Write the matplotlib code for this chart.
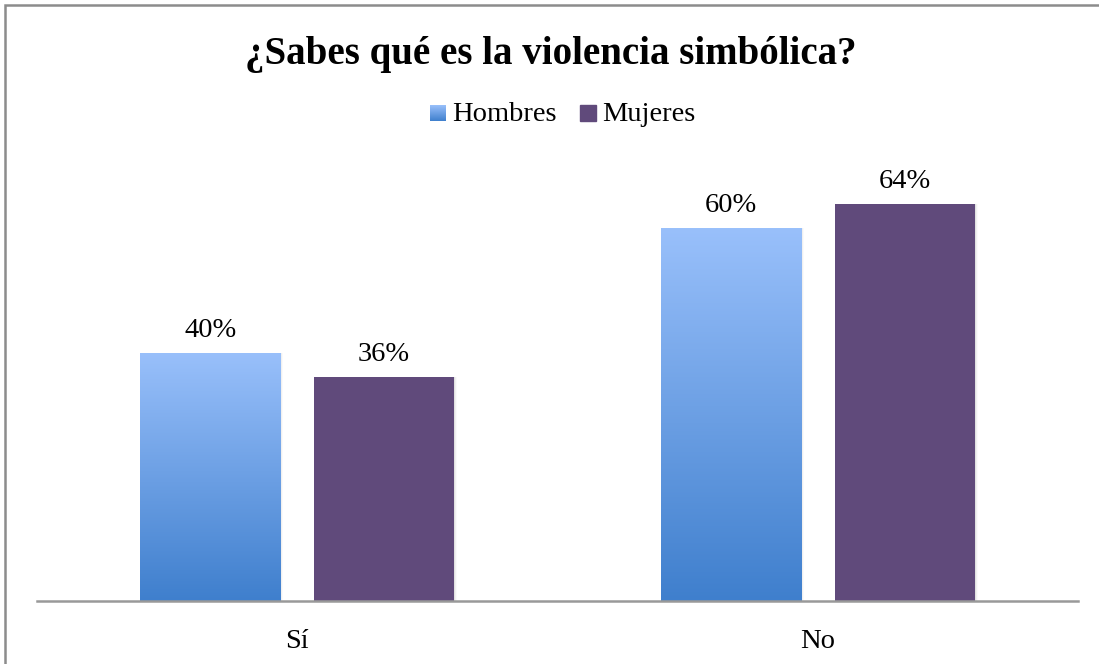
import numpy as np
import matplotlib.pyplot as plt
from matplotlib.patches import Rectangle
from matplotlib.colors import LinearSegmentedColormap

categorias = ["Sí", "No"]
hombres = [40, 60]
mujeres = [36, 64]
series = ["Hombres", "Mujeres"]

azul = LinearSegmentedColormap.from_list("azul", ["#3f7fcd", "#99c0fb"])
morado = "#604a7b"

plt.rcParams['font.family'] = ['Liberation Serif', 'DejaVu Serif']

fig = plt.figure(figsize=(10.99, 6.64), dpi=100)
W, H = 1099, 664
px = 6.21  # px por punto porcentual

# marco exterior
fig.patches.append(Rectangle((5 / W, -0.1), 1.2, (664 - 5) / H + 0.1, transform=fig.transFigure,
                             fill=False, edgecolor="#8c8c8c", linewidth=1.8))

# área de gráfico: eje x de 37 a 1078 px, base en y=601 px
top_px = 170
ax = fig.add_axes([37 / W, (H - 601) / H, (1078 - 37) / W, (601 - top_px) / H])
for s in ["top", "right", "left"]:
    ax.spines[s].set_visible(False)
ax.spines["bottom"].set_color("#999999")
ax.spines["bottom"].set_linewidth(1.8)
ax.set_yticks([])
ax.set_xticks([])

ancho = 0.269
desp = 0.167
x = np.arange(len(categorias))
grad = np.linspace(0, 1, 256).reshape(-1, 1)

for xi, cat in zip(x, categorias):
    ax.text(xi, -47 / px, cat, ha="center", va="baseline", fontsize=20.5, clip_on=False)


def sombra(x0, h):
    for i, a in enumerate([0.06, 0.04, 0.02]):
        ax.add_patch(Rectangle((x0 + 0.002 * (i + 1), 0), ancho, h, color="black",
                               alpha=a, linewidth=0, zorder=1))


for xi, h in zip(x - desp, hombres):
    x0 = xi - ancho / 2
    sombra(x0, h)
    barra = ax.bar(xi, h, ancho, color="none", zorder=2)[0]
    img = ax.imshow(grad, cmap=azul, aspect="auto", origin="lower",
                    extent=[x0, x0 + ancho, 0, h], zorder=2)
    img.set_clip_path(barra)
    ax.text(xi, h + 16 / px, f"{h}%", ha="center", va="baseline", fontsize=20.5)

for xi, h in zip(x + desp, mujeres):
    sombra(xi - ancho / 2, h)
    ax.bar(xi, h, ancho, color=morado, zorder=2)
    ax.text(xi, h + 16 / px, f"{h}%", ha="center", va="baseline", fontsize=20.5)

ax.set_xlim(-0.5, 1.5)
ax.set_ylim(0, (601 - top_px) / px)

fig.text(551 / W, 1 - 64 / H, "¿Sabes qué es la violencia simbólica?", ha="center", va="baseline",
         fontsize=28, fontweight="bold")

# leyenda
lg_y = 1 - 121 / H
sq = 16
cuadro = fig.add_axes([430 / W, (H - 121) / H, sq / W, sq / H])
cuadro.imshow(grad, cmap=azul, aspect="auto", origin="lower")
cuadro.axis("off")
fig.text(452 / W, lg_y, series[0], ha="left", va="baseline", fontsize=20.5)
fig.patches.append(Rectangle((580 / W, (H - 121) / H), sq / W, sq / H, transform=fig.transFigure,
                             color=morado))
fig.text(602 / W, lg_y, series[1], ha="left", va="baseline", fontsize=20.5)

fig.savefig("out.png", dpi=100)
